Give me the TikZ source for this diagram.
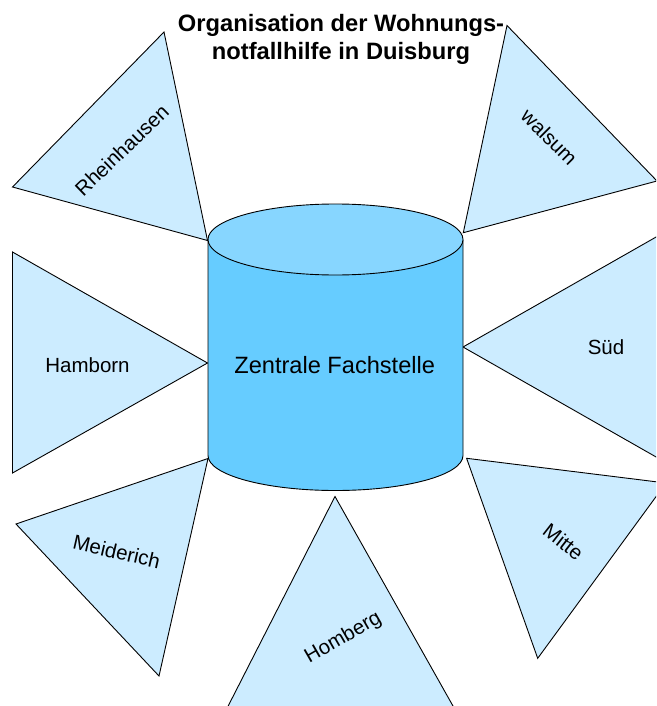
\documentclass[tikz,border=0pt]{standalone}
\usepackage{fontspec}
\setmainfont{Liberation Sans}
\definecolor{triblue}{HTML}{CCECFF}
\definecolor{cylbody}{HTML}{66CCFF}
\definecolor{cyltop}{HTML}{87D6FF}
\begin{document}
\begin{tikzpicture}[x=1pt,y=1pt,
  tri/.style={draw=black, line width=0.9pt, fill=triblue, line join=miter},
  cylline/.style={draw=black, line width=0.9pt},
  lbl/.style={font=\fontsize{20.5}{24}\selectfont, inner sep=0pt},
  ttl/.style={font=\bfseries\fontsize{23.7}{28}\selectfont, inner sep=0pt, anchor=base},
 ]
\useasboundingbox (0,0) rectangle (656,-706);
\begin{scope}
\clip (0,0) rectangle (656,-706);
% Rheinhausen
\coordinate (rh1) at (164,-32);
\coordinate (rh2) at (12.5,-187);
\coordinate (rh3) at (207.5,-240.5);
\draw[tri] (rh1) -- (rh2) -- (rh3) -- cycle;
% walsum
\coordinate (wa1) at (507,-25.5);
\coordinate (wa2) at (657,-181);
\coordinate (wa3) at (463.3,-232.7);
\draw[tri] (wa1) -- (wa2) -- (wa3) -- cycle;
% Hamborn
\coordinate (ha1) at (12.5,-252);
\coordinate (ha2) at (12.5,-473);
\coordinate (ha3) at (207.5,-363);
\draw[tri] (ha1) -- (ha2) -- (ha3) -- cycle;
% Sued
\coordinate (su1) at (463,-347);
\coordinate (su2) at (657,-236.5);
\coordinate (su3) at (657,-457.5);
\draw[tri] (su1) -- (su2) -- (su3) -- cycle;
% Meiderich
\coordinate (me1) at (208,-458.5);
\coordinate (me2) at (16,-524);
\coordinate (me3) at (159,-676);
\draw[tri] (me1) -- (me2) -- (me3) -- cycle;
% Homberg
\coordinate (ho1) at (335,-496.5);
\coordinate (ho2) at (220,-722);
\coordinate (ho3) at (462,-722);
\draw[tri] (ho1) -- (ho2) -- (ho3) -- cycle;
% Mitte
\coordinate (mi1) at (466.6,-458.3);
\coordinate (mi2) at (666,-483);
\coordinate (mi3) at (537.7,-658.3);
\draw[tri] (mi1) -- (mi2) -- (mi3) -- cycle;
\end{scope}
% cylinder
\fill[cylbody] (208,-239.5) -- (208,-455.5) arc[start angle=180, end angle=360, x radius=127.5, y radius=35] -- (463,-239.5) -- cycle;
\draw[cylline] (208,-239.5) -- (208,-455.5) arc[start angle=180, end angle=360, x radius=127.5, y radius=35] -- (463,-239.5);
\draw[cylline, fill=cyltop] (335.5,-239.5) ellipse[x radius=127.5, y radius=35.5];
% labels
\node[font=\fontsize{23.6}{28}\selectfont, inner sep=0pt] (zf) at (334.7,-365) {Zentrale Fachstelle};
\node[lbl, rotate=44] (rhl) at (121.7,-150) {Rheinhausen};
\node[lbl, rotate=-45] (wal) at (549.3,-137.3) {walsum};
\node[lbl] (hal) at (87.5,-365) {Hamborn};
\node[lbl] (sul) at (606,-347) {Süd};
\node[lbl, rotate=-13] (mel) at (116.7,-551.7) {Meiderich};
\node[lbl, rotate=30] (hol) at (343.3,-638.3) {Homberg};
\node[lbl, rotate=-38] (mil) at (563.3,-541.7) {Mitte};
% title
\node[ttl] (t1) at (341,-31.7) {Organisation der Wohnungs-};
\node[ttl] (t2) at (341,-59.3) {notfallhilfe in Duisburg};
\end{tikzpicture}
\end{document}
